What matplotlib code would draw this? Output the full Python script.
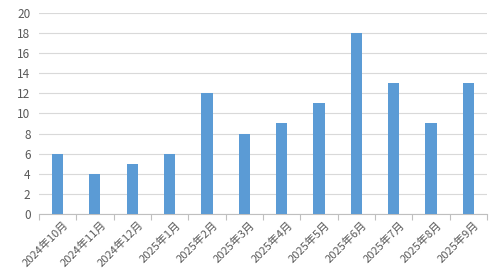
import matplotlib
matplotlib.use("Agg")
import matplotlib.pyplot as plt
import numpy as np

plt.rcParams['font.family'] = ['Noto Sans CJK SC', 'DejaVu Sans']

# data
months = ["2024年10月", "2024年11月", "2024年12月", "2025年1月", "2025年2月", "2025年3月",
          "2025年4月", "2025年5月", "2025年6月", "2025年7月", "2025年8月", "2025年9月"]
counts = [6, 4, 5, 6, 12, 8, 9, 11, 18, 13, 9, 13]

fig = plt.figure(figsize=(4.98, 2.8), dpi=100)
ax = fig.add_axes([0.078, 0.236, 0.90, 0.718])

x = np.arange(len(months))
ax.bar(x, counts, width=0.3, color="#5b9bd5", zorder=3)

ax.set_xlim(-0.5, len(months) - 0.5)
ax.set_ylim(0, 20)
ax.set_yticks(range(0, 21, 2))
ax.yaxis.grid(True, color="#d9d9d9", linewidth=0.8, zorder=0)

# category labels, tick marks between categories
ax.set_xticks(x + 0.15)
ax.set_xticklabels(months, rotation=45, ha="right", rotation_mode="anchor", fontsize=8, color="#595959")
ax.tick_params(axis="x", which="major", length=0, pad=4)
ax.set_xticks(np.arange(-0.5, len(months)), minor=True)
ax.tick_params(axis="x", which="minor", length=4, color="#bfbfbf", width=0.8)
ax.tick_params(axis="y", length=0, labelsize=8.5, labelcolor="#595959", pad=6)

for s in ["top", "right", "left"]:
    ax.spines[s].set_visible(False)
ax.spines["bottom"].set_color("#bfbfbf")
ax.spines["bottom"].set_linewidth(0.8)

fig.savefig("out.png", dpi=100)
